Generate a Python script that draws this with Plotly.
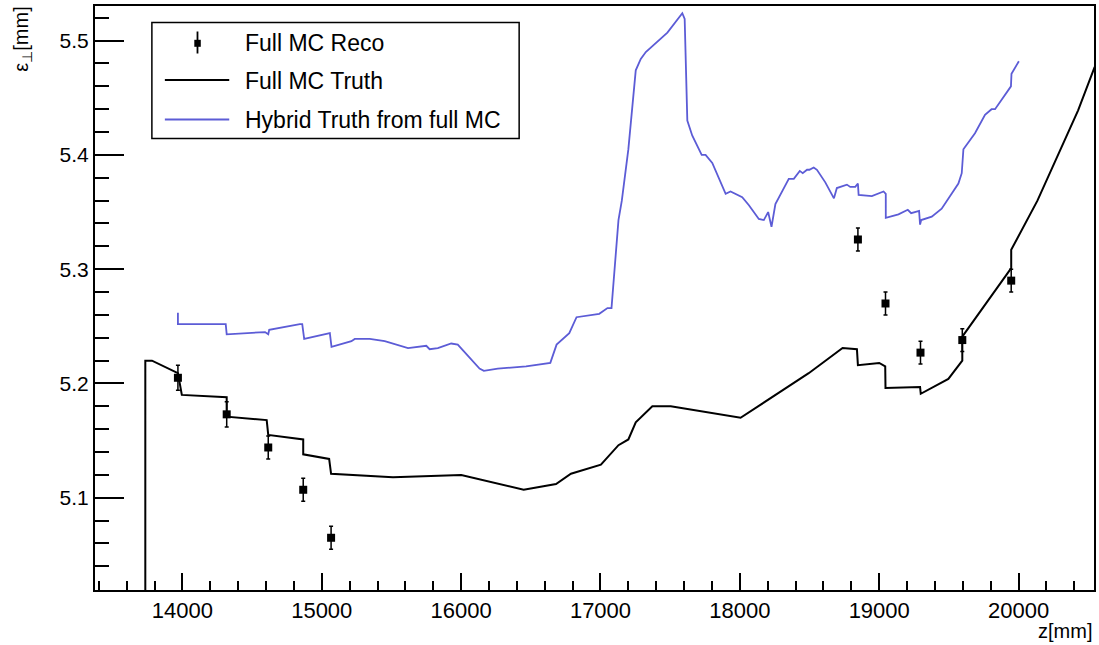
import plotly.graph_objects as go

# Reconstructed emittance at the tracker stations
reco_z = [13968, 14318, 14616, 14867, 15067, 18847, 19045, 19296, 19596, 19947]
reco_eps = [5.205, 5.173, 5.144, 5.107, 5.065, 5.326, 5.270, 5.227, 5.238, 5.290]
reco_err = [0.011, 0.011, 0.010, 0.010, 0.010, 0.010, 0.010, 0.010, 0.010, 0.010]

# Full MC truth emittance along z
truth_z = [13734, 13734, 13782, 13968, 13996, 14318, 14318, 14605, 14616, 14867,
           14867, 15053, 15067, 15511, 16001, 16449, 16681, 16788, 17003, 17129,
           17200, 17253, 17372, 17504, 18005, 18494, 18737, 18840, 18847, 19000,
           19043, 19045, 19293, 19298, 19496, 19596, 19596, 19947, 19947, 20135,
           20427, 20546]
truth_eps = [5.000, 5.220, 5.220, 5.209, 5.190, 5.188, 5.171, 5.168, 5.155, 5.151,
             5.138, 5.134, 5.121, 5.118, 5.120, 5.107, 5.112, 5.121, 5.129, 5.146,
             5.151, 5.166, 5.180, 5.180, 5.170, 5.209, 5.231, 5.230, 5.216, 5.218,
             5.215, 5.196, 5.197, 5.191, 5.204, 5.220, 5.241, 5.301, 5.317, 5.360,
             5.439, 5.477]

# Hybrid truth emittance derived from the full MC
hybrid_z = [13968, 13968, 14294, 14311, 14318, 14593, 14616, 14623, 14843, 14860,
            14874, 15058, 15070, 15213, 15237, 15344, 15452, 15619, 15750, 15774,
            15833, 15929, 15976, 16132, 16163, 16263, 16466, 16640, 16685, 16776,
            16828, 16991, 17050, 17079, 17129, 17153, 17200, 17253, 17289, 17325,
            17480, 17587, 17604, 17623, 17658, 17726, 17754, 17802, 17898, 17933,
            18017, 18065, 18136, 18172, 18203, 18227, 18255, 18351, 18387, 18430,
            18451, 18482, 18499, 18530, 18553, 18613, 18675, 18696, 18768, 18792,
            18828, 18847, 18852, 18947, 19031, 19047, 19047, 19138, 19205, 19229,
            19286, 19293, 19301, 19377, 19448, 19568, 19592, 19604, 19687, 19759,
            19806, 19831, 19945, 19949, 20002]
hybrid_eps = [5.262, 5.252, 5.252, 5.252, 5.243, 5.245, 5.243, 5.247, 5.252, 5.252,
              5.239, 5.244, 5.232, 5.237, 5.239, 5.239, 5.237, 5.231, 5.233, 5.230,
              5.231, 5.235, 5.234, 5.213, 5.211, 5.213, 5.215, 5.218, 5.234, 5.244,
              5.258, 5.261, 5.266, 5.266, 5.343, 5.360, 5.405, 5.474, 5.484, 5.490,
              5.507, 5.524, 5.519, 5.430, 5.417, 5.400, 5.400, 5.393, 5.366, 5.368,
              5.363, 5.356, 5.344, 5.343, 5.350, 5.337, 5.357, 5.379, 5.379, 5.386,
              5.384, 5.387, 5.387, 5.389, 5.387, 5.376, 5.362, 5.371, 5.374, 5.372,
              5.372, 5.375, 5.365, 5.364, 5.368, 5.366, 5.345, 5.348, 5.352, 5.349,
              5.351, 5.339, 5.343, 5.346, 5.353, 5.375, 5.384, 5.405, 5.419, 5.435,
              5.440, 5.440, 5.460, 5.471, 5.482]

legend_labels = ["Full MC Reco", "Full MC Truth", "Hybrid Truth from full MC"]

FONT = "Liberation Sans, Arial, Helvetica, sans-serif"
BLUE = "#5c5cd6"

W, H = 1099, 645
M_L, M_R, M_T, M_B = 95, 3, 6, 55
PLOT_W = W - M_L - M_R
PLOT_H = H - M_T - M_B


def px(xpix):
    """Horizontal page pixel -> paper coordinate."""
    return (xpix - M_L) / PLOT_W


def py(ypix):
    """Vertical page pixel (from top) -> paper coordinate."""
    return (H - M_B - ypix) / PLOT_H


fig = go.Figure()

fig.add_trace(go.Scatter(
    x=reco_z, y=reco_eps, mode="markers", name=legend_labels[0],
    marker=dict(symbol="square", size=8, color="black"),
    error_y=dict(type="data", array=reco_err, color="black", thickness=1.5, width=2),
    showlegend=False,
))
fig.add_trace(go.Scatter(
    x=truth_z, y=truth_eps, mode="lines", name=legend_labels[1],
    line=dict(color="black", width=2), showlegend=False,
))
fig.add_trace(go.Scatter(
    x=hybrid_z, y=hybrid_eps, mode="lines", name=legend_labels[2],
    line=dict(color=BLUE, width=1.8), showlegend=False,
))

axis_common = dict(
    showline=True, linecolor="black", linewidth=2, mirror=True,
    ticks="inside", tickcolor="black", tickwidth=1.5,
    showgrid=False, zeroline=False,
)

fig.update_xaxes(
    range=[13373, 20541], dtick=1000, tick0=14000, ticklen=17, tickformat="d",
    tickfont=dict(family=FONT, size=22, color="black"),
    minor=dict(dtick=200, tick0=14000, ticks="inside", ticklen=9,
               tickcolor="black", tickwidth=1.5),
    **axis_common,
)
fig.update_yaxes(
    range=[5.0193, 5.5303], dtick=0.1, tick0=5.1, ticklen=29, tickformat=".1f",
    tickfont=dict(family=FONT, size=21, color="black"),
    minor=dict(dtick=0.02, tick0=5.1, ticks="inside", ticklen=14,
               tickcolor="black", tickwidth=1.5),
    **axis_common,
)

# Legend box drawn as a framed panel with its own symbols
shapes = [
    dict(type="rect", xref="paper", yref="paper",
         x0=px(152), x1=px(520), y0=py(138.5), y1=py(22.5),
         fillcolor="white", line=dict(color="black", width=1.5), layer="above"),
    # reco: error bar with square marker
    dict(type="line", xref="paper", yref="paper",
         x0=px(197.7), x1=px(197.7), y0=py(31.5), y1=py(53.5),
         line=dict(color="black", width=1.8), layer="above"),
    dict(type="rect", xref="paper", yref="paper",
         x0=px(194.5), x1=px(201), y0=py(39.8), y1=py(46.8),
         fillcolor="black", line=dict(color="black", width=0), layer="above"),
    # truth line sample
    dict(type="line", xref="paper", yref="paper",
         x0=px(165), x1=px(229.5), y0=py(80), y1=py(80),
         line=dict(color="black", width=2), layer="above"),
    # hybrid line sample
    dict(type="line", xref="paper", yref="paper",
         x0=px(165), x1=px(229.5), y0=py(119.5), y1=py(119.5),
         line=dict(color=BLUE, width=1.8), layer="above"),
]

annotations = [
    dict(text=label, xref="paper", yref="paper", x=px(243), y=py(ypos),
         xanchor="left", yanchor="middle", showarrow=False,
         font=dict(family=FONT, size=23, color="black"))
    for label, ypos in zip(legend_labels, [43.5, 81, 120])
]
annotations += [
    dict(text="z[mm]", xref="paper", yref="paper", x=1.0, y=py(631),
         xanchor="right", yanchor="middle", showarrow=False,
         font=dict(family=FONT, size=20, color="black")),
    dict(text="ε<sub>⊥</sub>[mm]", xref="paper", yref="paper",
         x=px(22), y=py(5), xanchor="center", yanchor="top",
         textangle=-90, showarrow=False,
         font=dict(family=FONT, size=20, color="black")),
]

fig.update_layout(
    width=W, height=H,
    margin=dict(l=M_L, r=M_R, t=M_T, b=M_B),
    paper_bgcolor="white", plot_bgcolor="white",
    font=dict(family=FONT, color="black"),
    showlegend=False,
    shapes=shapes,
    annotations=annotations,
)

fig.write_html("out.html")
